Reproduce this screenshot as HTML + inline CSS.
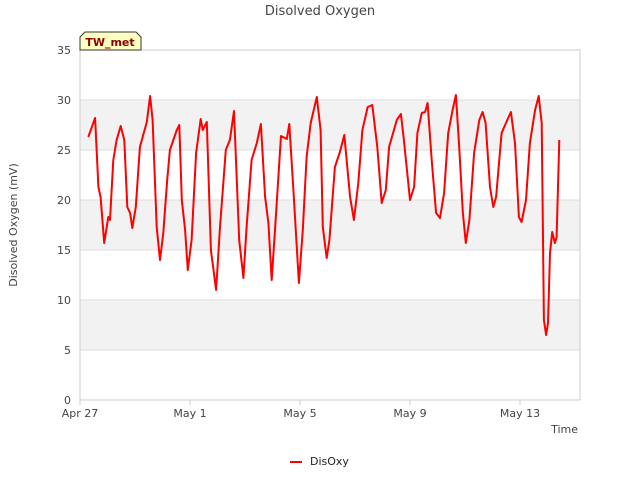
<!DOCTYPE html>
<html><head><meta charset="utf-8"><style>
body{margin:0;background:#fff;font-family:"Liberation Sans","DejaVu Sans",sans-serif;}
svg text{font-family:"DejaVu Sans","Liberation Sans",sans-serif;}
</style></head><body>
<svg id="chart" width="640" height="480" viewBox="0 0 640 480">
<text x="320" y="15" text-anchor="middle" font-size="13" fill="#444">Disolved Oxygen</text>
<g id="bands"></g><g id="grid"></g>
<rect x="80" y="50" width="500" height="350" fill="none" stroke="#ccc"/>
<g id="yticks"></g><g id="xticks"></g>
<text transform="translate(17,225) rotate(-90)" text-anchor="middle" font-size="11" fill="#444">Disolved Oxygen (mV)</text>
<text x="578" y="433" text-anchor="end" font-size="11" fill="#444">Time</text>
<path id="series" fill="none" stroke="#ff0000" stroke-width="2" stroke-linejoin="round"/>
<g>
<path d="M80,37 L85,32 L136,32 L141,37 L141,50 L80,50 Z" fill="#ffffc0" stroke="#333" stroke-width="1"/>
<text x="110" y="46" text-anchor="middle" font-size="11" font-weight="bold" fill="#8b0000">TW_met</text>
</g>
<g>
<line x1="290" y1="462" x2="302" y2="462" stroke="#ff0000" stroke-width="2"/>
<text x="310" y="465" font-size="11" fill="#222">DisOxy</text>
</g>
</svg>
<script>
const yTicks=[0,5,10,15,20,25,30,35];
const xTickDays=[0,4,8,12,16];
const xTickLabels=["Apr 27","May 1","May 5","May 9","May 13"];
const days=[0.30,0.55,0.67,0.75,0.88,1.03,1.09,1.21,1.33,1.48,1.61,1.72,1.82,1.90,2.03,2.18,2.43,2.55,2.64,2.79,2.91,3.03,3.17,3.27,3.52,3.61,3.70,3.82,3.92,4.06,4.22,4.39,4.46,4.61,4.76,4.95,5.09,5.30,5.45,5.60,5.79,5.94,6.06,6.24,6.43,6.58,6.73,6.85,6.97,7.09,7.31,7.52,7.61,7.76,7.96,8.10,8.24,8.39,8.61,8.75,8.83,8.97,9.07,9.27,9.45,9.61,9.82,9.96,10.12,10.27,10.46,10.63,10.81,10.97,11.12,11.24,11.52,11.67,11.78,12.00,12.15,12.27,12.43,12.55,12.64,12.79,12.95,13.09,13.24,13.39,13.55,13.67,13.79,13.92,14.03,14.16,14.33,14.52,14.64,14.75,14.91,15.03,15.13,15.33,15.57,15.67,15.82,15.96,16.06,16.22,16.36,16.55,16.68,16.79,16.87,16.95,17.02,17.09,17.17,17.27,17.33,17.43];
const values=[26.3,28.2,21.3,20.3,15.7,18.3,18,24,26,27.4,26,19.3,18.7,17.2,19.3,25.3,27.8,30.4,28,17.3,14,16.7,22,25,27,27.5,20,17,13,16,24.7,28.1,27,27.8,15,11,17.3,25,26,28.9,16,12.2,17.3,24,25.7,27.6,20.3,17.7,12,17,26.4,26.1,27.6,21,11.7,17,24.3,27.7,30.3,27,17.3,14.2,16,23.3,24.8,26.5,20.3,18,21.7,27,29.3,29.5,25.3,19.7,21,25.3,28,28.6,26,20,21.3,26.7,28.7,28.8,29.7,24,18.7,18.2,20.7,26.7,29,30.5,25.3,18.8,15.7,18,24.7,28,28.8,27.7,21.3,19.3,20.3,26.7,28.2,28.8,25.7,18.3,17.8,20,25.7,29,30.4,27.7,8,6.5,7.7,14.7,16.8,15.7,16.3,26];
const NS="http://www.w3.org/2000/svg";
const X=d=>80+d*27.5, Y=v=>400-v*10;
function mk(t,a,p){const e=document.createElementNS(NS,t);for(const k in a)e.setAttribute(k,a[k]);p.appendChild(e);return e;}
const bands=document.getElementById('bands'),grid=document.getElementById('grid'),yt=document.getElementById('yticks'),xt=document.getElementById('xticks');
for(let i=0;i<yTicks.length-1;i++){ if(i%2===1){
 const r=mk('rect',{x:80,y:Y(yTicks[i+1]),width:500,height:Y(yTicks[i])-Y(yTicks[i+1]),fill:'#f2f2f2'},bands);
 
 }}
yTicks.forEach(v=>{
 const l=mk('line',{x1:80,x2:580,y1:Y(v),y2:Y(v),stroke:'#ddd'},grid);
 
 
 const t=mk('text',{x:71,y:Y(v)+4,'text-anchor':'end','font-size':11,fill:'#444'},yt);t.textContent=v;
 
 
});
xTickDays.forEach((d,i)=>{
 mk('line',{x1:X(d),x2:X(d),y1:400,y2:405,stroke:'#ccc'},xt);
 const t=mk('text',{x:X(d),y:417,'text-anchor':'middle','font-size':11,fill:'#444'},xt);t.textContent=xTickLabels[i];
 
 
});
document.getElementById('series').setAttribute('d',days.map((d,i)=>(i?'L':'M')+X(d).toFixed(1)+','+Y(values[i]).toFixed(1)).join(''));
</script>
</body></html>
